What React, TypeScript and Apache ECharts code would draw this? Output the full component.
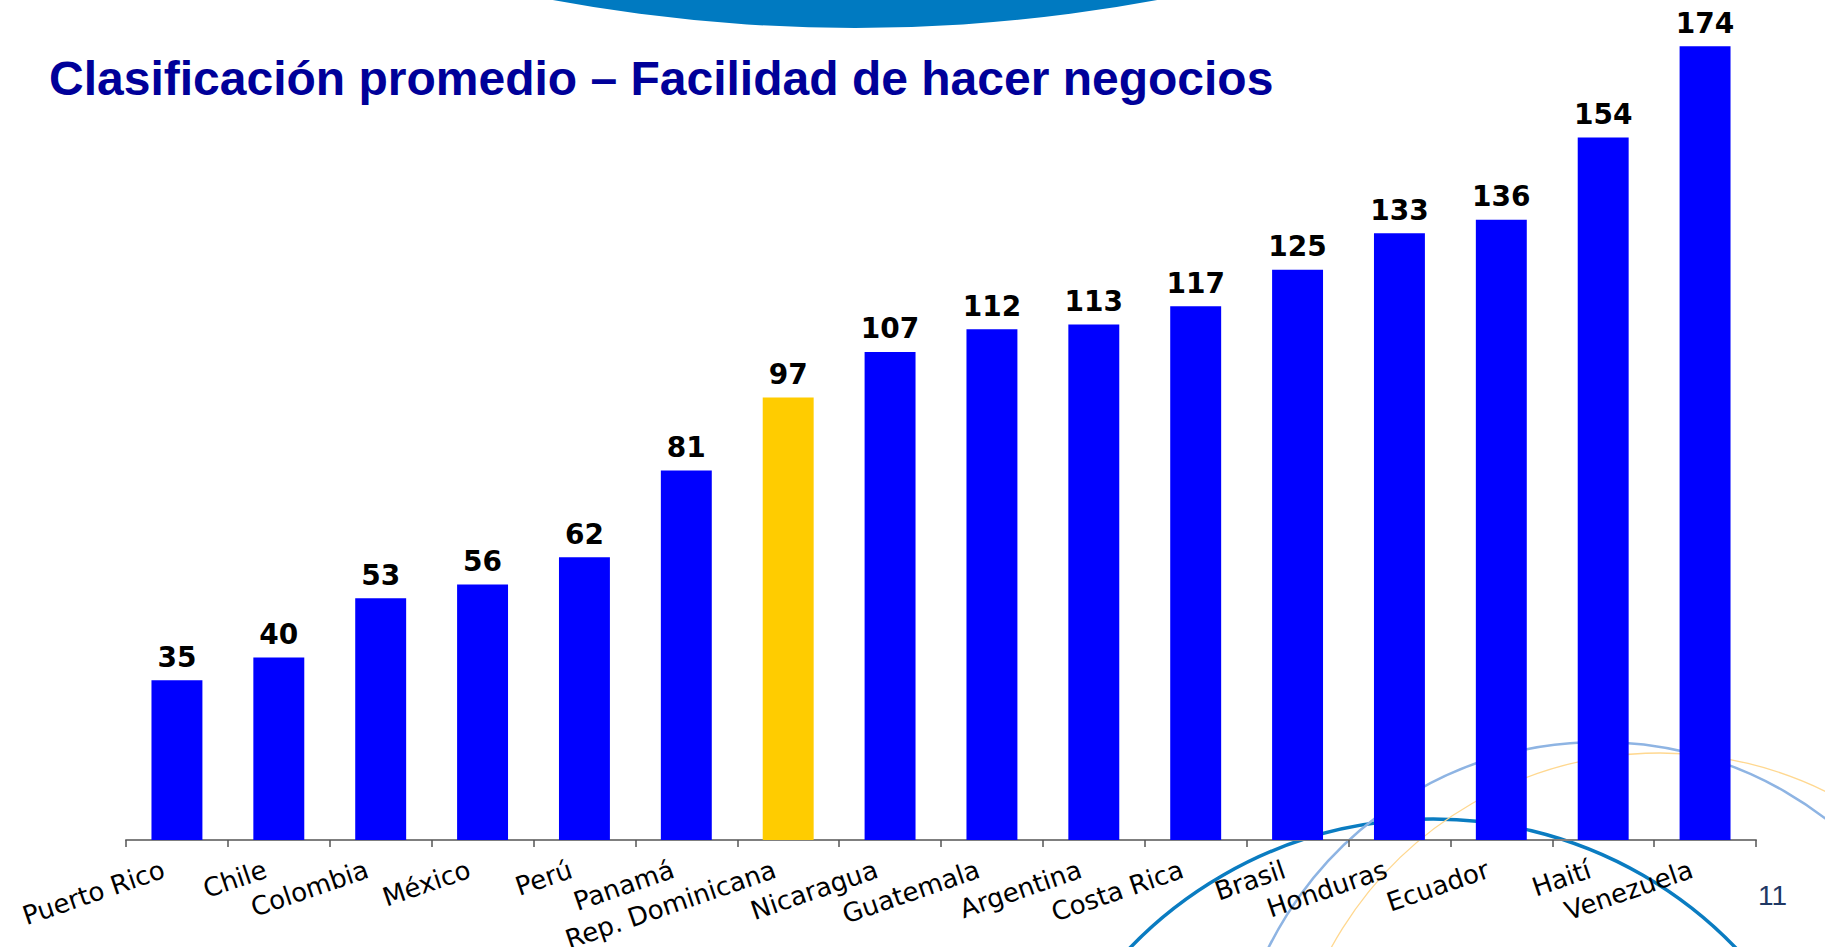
import React, { useEffect, useRef } from "react";
import * as echarts from "echarts";

const titleText = "Clasificación promedio – Facilidad de hacer negocios";
const categories = [
  "Puerto Rico", "Chile", "Colombia", "México", "Perú", "Panamá",
  "Rep. Dominicana", "Nicaragua", "Guatemala", "Argentina", "Costa Rica",
  "Brasil", "Honduras", "Ecuador", "Haití", "Venezuela",
];
const values = [35, 40, 53, 56, 62, 81, 97, 107, 112, 113, 117, 125, 133, 136, 154, 174];
const highlightCategory = "Rep. Dominicana";
const pageNumber = "11";

const BLUE = "#0000FF";
const YELLOW = "#FFCC00";

export default function App() {
  const ref = useRef<HTMLDivElement>(null);
  useEffect(() => {
    if (!ref.current) return;
    const chart = echarts.init(ref.current, undefined, { renderer: "svg" });
    chart.setOption({
      animation: false,
      backgroundColor: "#ffffff",
      title: {
        text: titleText,
        left: 49,
        top: 54,
        padding: 0,
        textStyle: {
          fontFamily: "Liberation Sans",
          fontWeight: "bold",
          fontSize: 48,
          color: "#000099",
        },
      },
      grid: {
        left: 126,
        right: 69,
        top: 19,
        bottom: 107,
        containLabel: false,
        outerBoundsMode: "none",
      },
      xAxis: {
        type: "category",
        data: categories,
        axisLine: { show: true, lineStyle: { color: "#7F7F7F", width: 2 } },
        axisTick: { show: true, length: 7, interval: 0, lineStyle: { color: "#555555", width: 1.5 } },
        axisLabel: {
          interval: 0,
          rotate: 19,
          margin: 24,
          padding: [0, 14, 0, 0],
          fontFamily: "DejaVu Sans",
          fontSize: 26,
          color: "#000000",
        },
        splitLine: { show: false },
      },
      yAxis: {
        type: "value",
        min: 0,
        max: 180,
        show: false,
        splitLine: { show: false },
      },
      series: [
        {
          type: "bar",
          barWidth: "50%",
          data: values.map((v, i) => ({
            value: v,
            itemStyle: { color: categories[i] === highlightCategory ? YELLOW : BLUE },
          })),
          label: {
            show: true,
            position: "top",
            distance: 9,
            fontFamily: "DejaVu Sans",
            fontWeight: "bold",
            fontSize: 28,
            color: "#000000",
          },
        },
      ],
      graphic: [
        {
          type: "circle",
          z: -10,
          silent: true,
          shape: { cx: 855, cy: -1622, r: 1650 },
          style: { fill: "#007AC1", stroke: "none" },
        },
        {
          type: "circle",
          z: -10,
          silent: true,
          shape: { cx: 1433, cy: 1239, r: 420 },
          style: { fill: "none", stroke: "#0A7CC1", lineWidth: 3.5 },
        },
        {
          type: "circle",
          z: -10,
          silent: true,
          shape: { cx: 1600, cy: 1112, r: 370 },
          style: { fill: "none", stroke: "#8EB4E3", lineWidth: 2.5 },
        },
        {
          type: "circle",
          z: -10,
          silent: true,
          shape: { cx: 1660, cy: 1128, r: 375 },
          style: { fill: "none", stroke: "#FFD890", lineWidth: 1.3 },
        },
        {
          type: "text",
          silent: true,
          style: {
            text: pageNumber,
            x: 1758,
            y: 895,
            verticalAlign: "middle",
            fontFamily: "Liberation Sans",
            fontSize: 28,
            fill: "#1F3864",
          },
        },
      ],
    });
    return () => chart.dispose();
  }, []);
  return (
    <div
      ref={ref}
      style={{ position: "fixed", left: 0, top: 0, width: 1825, height: 947 }}
    />
  );
}
